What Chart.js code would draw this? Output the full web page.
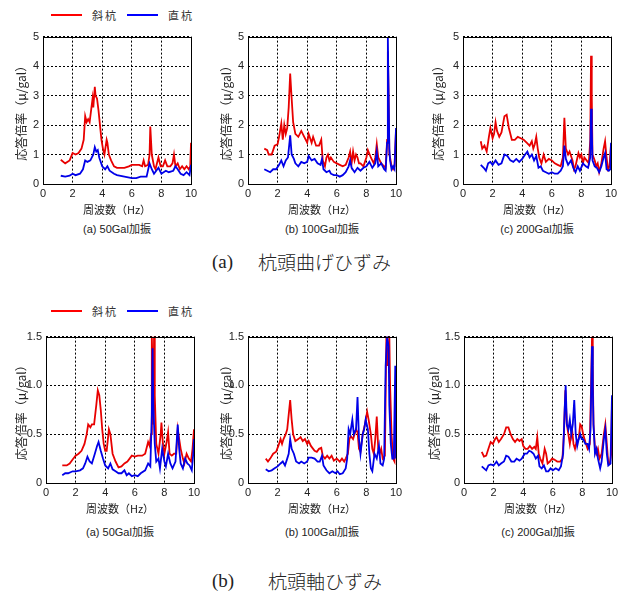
<!DOCTYPE html>
<html>
<head>
<meta charset="utf-8">
<script src="https://cdn.jsdelivr.net/npm/chart.js@4.4.0/dist/chart.umd.min.js"></script>
<style>
  body { margin: 0; background: #fff; width: 626px; height: 599px; position: relative; overflow: hidden; }
  canvas { position: absolute; }
  .lbl { position: absolute; font-family: "Liberation Sans", "Noto Sans CJK JP", sans-serif; color: #222; white-space: nowrap; }
  .cap { font-size: 11px; line-height: 14px; text-align: center; width: 148px; }
  .key { position: absolute; height: 2px; }
  .keytxt { font-family: "Noto Sans CJK JP", sans-serif; font-size: 11px; letter-spacing: 2px; color: #333; line-height: 14px; }
  .row { font-size: 19px; line-height: 22px; color: #222; }
  .serif { font-family: "Liberation Serif", serif; }
  .jp { font-family: "Noto Sans CJK JP", sans-serif; font-weight: 300; }
</style>
</head>
<body>
<script>
"use strict";

// frequency (Hz), response ratio (μ/gal)
const xTicks = [0, 2, 4, 6, 8, 10];
const bendTicks = [0, 1, 2, 3, 4, 5];
const axialTicks = [0, 0.5, 1, 1.5];
const seriesNames = ['斜杭', '直杭'];
const captions = ['(a) 50Gal加振', '(b) 100Gal加振', '(c) 200Gal加振'];

// 杭頭曲げひずみ
const bend50Inclined = [[1.2,0.82],[1.5,0.7],[1.8,0.8],[2.0,1.05],[2.2,1.0],[2.4,1.05],[2.6,1.2],[2.75,1.5],[2.85,2.3],[2.95,2.1],[3.05,2.2],[3.15,2.1],[3.3,2.7],[3.35,2.9],[3.4,2.6],[3.5,3.3],[3.55,3.0],[3.65,2.9],[3.75,2.5],[3.85,2.0],[3.95,1.5],[4.05,1.2],[4.15,1.0],[4.3,1.5],[4.35,1.4],[4.45,1.0],[4.6,0.8],[4.8,0.6],[5.0,0.55],[5.5,0.55],[5.8,0.6],[6.0,0.65],[6.5,0.65],[6.7,0.6],[6.8,0.8],[6.9,0.6],[7.1,0.65],[7.2,1.0],[7.25,1.95],[7.35,1.0],[7.5,0.6],[7.6,0.5],[7.8,0.9],[7.95,0.6],[8.1,0.6],[8.25,0.8],[8.4,0.6],[8.6,0.6],[8.75,0.7],[8.85,1.0],[8.95,0.6],[9.1,0.7],[9.25,0.5],[9.4,0.6],[9.55,0.5],[9.7,0.6],[9.85,0.5],[9.95,0.6],[10,1.4]];
const bend50Vertical = [[1.2,0.28],[1.5,0.25],[1.8,0.28],[2.0,0.35],[2.2,0.3],[2.5,0.35],[2.7,0.5],[2.85,0.8],[3.0,0.75],[3.2,0.8],[3.4,1.0],[3.5,1.25],[3.6,1.1],[3.7,1.15],[3.8,0.9],[4.0,0.6],[4.2,0.5],[4.35,0.6],[4.5,0.45],[4.8,0.35],[5.0,0.3],[5.5,0.25],[6.0,0.2],[6.3,0.2],[6.6,0.25],[7.0,0.25],[7.2,0.7],[7.35,0.5],[7.5,0.35],[7.8,0.55],[8.0,0.35],[8.3,0.45],[8.5,0.4],[8.8,0.45],[8.95,0.6],[9.1,0.5],[9.3,0.35],[9.5,0.3],[9.7,0.4],[9.9,0.3],[10,0.65]];
const bend100Inclined = [[1.1,1.2],[1.3,1.15],[1.4,1.0],[1.6,1.0],[1.8,1.3],[2.0,1.35],[2.1,1.6],[2.25,2.05],[2.35,1.5],[2.45,2.0],[2.55,1.7],[2.65,1.9],[2.75,2.6],[2.85,3.75],[2.95,2.9],[3.05,2.1],[3.2,1.7],[3.4,1.6],[3.6,1.8],[3.8,1.6],[4.0,1.4],[4.1,1.7],[4.3,1.4],[4.4,1.6],[4.6,1.3],[4.8,1.3],[4.95,1.5],[5.05,0.8],[5.2,0.6],[5.3,0.9],[5.4,1.0],[5.5,0.8],[5.6,0.9],[5.8,0.75],[6.0,0.7],[6.2,0.65],[6.4,0.6],[6.6,0.65],[6.8,0.9],[6.9,1.1],[7.0,0.7],[7.1,1.1],[7.2,0.8],[7.3,1.0],[7.4,0.9],[7.5,0.7],[7.6,0.7],[7.8,0.6],[8.0,0.9],[8.1,1.15],[8.3,0.9],[8.5,0.7],[8.6,0.9],[8.7,1.35],[8.8,0.9],[9.0,0.7],[9.2,0.6],[9.3,0.55],[9.4,1.5],[9.45,4.5],[9.5,3.0],[9.55,1.0],[9.6,0.9],[9.7,0.6],[9.8,0.5],[9.9,0.6],[10,1.8]];
const bend100Vertical = [[1.1,0.5],[1.3,0.45],[1.5,0.4],[1.7,0.5],[1.9,0.5],[2.1,0.65],[2.25,0.8],[2.4,0.6],[2.55,0.8],[2.7,0.9],[2.85,1.65],[2.95,1.0],[3.1,0.85],[3.2,0.7],[3.4,0.6],[3.6,0.75],[3.8,0.7],[4.0,0.75],[4.1,0.95],[4.3,0.8],[4.5,0.85],[4.7,0.7],[4.9,0.65],[5.0,0.85],[5.1,0.5],[5.3,0.4],[5.5,0.45],[5.6,0.35],[5.8,0.3],[6.0,0.3],[6.2,0.25],[6.4,0.3],[6.6,0.4],[6.8,0.6],[6.9,0.8],[7.0,0.55],[7.2,0.4],[7.4,0.55],[7.6,0.45],[7.8,0.55],[8.0,0.6],[8.2,0.75],[8.4,0.55],[8.6,0.7],[8.7,1.1],[8.8,0.6],[9.0,0.7],[9.2,0.5],[9.3,0.45],[9.4,1.4],[9.45,4.95],[9.5,3.0],[9.55,1.2],[9.6,0.8],[9.7,0.5],[9.8,0.6],[9.9,0.5],[10,1.9]];
const bend200Inclined = [[1.2,1.45],[1.3,1.2],[1.45,1.3],[1.6,1.1],[1.75,1.6],[1.85,1.9],[2.0,1.55],[2.1,1.7],[2.2,2.1],[2.3,1.8],[2.45,1.6],[2.6,1.75],[2.8,2.3],[2.95,2.35],[3.1,1.9],[3.3,1.5],[3.5,1.5],[3.7,1.6],[3.9,1.55],[4.1,1.5],[4.3,1.4],[4.5,1.3],[4.65,1.45],[4.75,1.2],[4.85,1.35],[4.95,1.6],[5.05,1.2],[5.15,0.9],[5.3,0.7],[5.45,1.0],[5.6,0.75],[5.8,0.85],[6.0,0.8],[6.2,0.7],[6.4,0.65],[6.6,0.6],[6.75,0.9],[6.85,2.25],[6.95,1.2],[7.1,1.0],[7.2,1.1],[7.4,0.8],[7.5,0.5],[7.6,0.6],[7.8,1.05],[7.9,0.9],[8.0,1.0],[8.1,0.7],[8.2,0.9],[8.35,0.8],[8.5,0.7],[8.6,1.5],[8.65,4.35],[8.7,3.0],[8.75,1.0],[8.9,0.8],[9.0,0.6],[9.1,0.7],[9.2,0.4],[9.35,0.7],[9.5,1.2],[9.6,1.45],[9.7,0.9],[9.8,0.5],[9.9,0.6],[10,1.35]];
const bend200Vertical = [[1.2,0.65],[1.4,0.55],[1.55,0.45],[1.7,0.7],[1.85,0.75],[2.0,0.65],[2.2,0.8],[2.4,0.65],[2.6,0.7],[2.8,1.0],[3.0,0.95],[3.2,0.8],[3.4,0.75],[3.6,0.85],[3.8,0.75],[4.0,0.85],[4.2,1.0],[4.35,1.1],[4.5,0.9],[4.65,1.0],[4.8,0.8],[4.95,0.95],[5.1,0.55],[5.25,0.6],[5.4,0.45],[5.6,0.4],[5.8,0.35],[6.0,0.4],[6.2,0.35],[6.4,0.35],[6.6,0.45],[6.75,0.6],[6.85,1.3],[6.95,0.85],[7.1,0.65],[7.3,0.8],[7.45,0.55],[7.6,0.4],[7.75,0.6],[7.9,0.45],[8.1,0.7],[8.3,0.6],[8.45,0.55],[8.6,0.9],[8.65,2.55],[8.7,1.9],[8.75,0.8],[8.9,0.6],[9.05,0.55],[9.2,0.4],[9.35,0.6],[9.5,0.9],[9.6,1.05],[9.7,0.5],[9.85,0.45],[9.95,0.5],[10,1.4]];

// 杭頭軸ひずみ
const axial50Inclined = [[1.1,0.18],[1.4,0.18],[1.6,0.2],[1.8,0.24],[2.0,0.28],[2.2,0.3],[2.4,0.33],[2.6,0.4],[2.75,0.5],[2.85,0.6],[3.0,0.57],[3.1,0.6],[3.25,0.6],[3.4,0.8],[3.5,0.95],[3.6,0.9],[3.7,0.75],[3.8,0.55],[3.9,0.4],[4.0,0.33],[4.1,0.33],[4.25,0.55],[4.35,0.5],[4.5,0.3],[4.7,0.22],[4.9,0.16],[5.1,0.17],[5.3,0.2],[5.5,0.22],[5.8,0.28],[6.0,0.27],[6.2,0.28],[6.5,0.28],[6.7,0.3],[6.9,0.42],[7.0,0.38],[7.1,0.5],[7.15,1.5],[7.2,1.2],[7.25,0.6],[7.3,1.5],[7.35,0.9],[7.45,0.4],[7.6,0.3],[7.75,0.5],[7.8,0.62],[7.9,0.4],[8.0,0.3],[8.15,0.42],[8.25,0.52],[8.35,0.3],[8.5,0.28],[8.65,0.3],[8.8,0.3],[8.9,0.55],[9.0,0.45],[9.1,0.35],[9.25,0.25],[9.35,0.2],[9.5,0.3],[9.65,0.25],[9.8,0.22],[9.9,0.35],[10,0.55]];
const axial50Vertical = [[1.1,0.08],[1.3,0.1],[1.5,0.1],[1.8,0.12],[2.0,0.12],[2.3,0.13],[2.5,0.15],[2.65,0.2],[2.8,0.27],[2.95,0.22],[3.1,0.2],[3.3,0.3],[3.45,0.38],[3.55,0.42],[3.7,0.33],[3.85,0.25],[4.0,0.18],[4.2,0.15],[4.35,0.2],[4.5,0.14],[4.7,0.12],[4.9,0.1],[5.1,0.1],[5.3,0.13],[5.45,0.08],[5.6,0.1],[5.8,0.07],[6.0,0.08],[6.2,0.07],[6.4,0.1],[6.7,0.13],[6.9,0.2],[7.05,0.17],[7.15,0.7],[7.2,1.38],[7.25,0.8],[7.35,0.4],[7.45,0.22],[7.6,0.25],[7.7,0.15],[7.85,0.35],[8.0,0.22],[8.1,0.17],[8.25,0.3],[8.4,0.2],[8.55,0.15],[8.75,0.22],[8.9,0.6],[9.0,0.35],[9.1,0.2],[9.25,0.15],[9.4,0.25],[9.55,0.2],[9.7,0.18],[9.85,0.13],[9.95,0.3],[10,0.45]];
const axial100Inclined = [[1.2,0.25],[1.35,0.22],[1.5,0.25],[1.7,0.3],[1.9,0.32],[2.05,0.38],[2.2,0.45],[2.3,0.4],[2.4,0.45],[2.55,0.5],[2.65,0.55],[2.75,0.7],[2.85,0.85],[2.95,0.65],[3.05,0.5],[3.2,0.43],[3.4,0.45],[3.55,0.47],[3.7,0.43],[3.85,0.45],[4.0,0.4],[4.1,0.43],[4.25,0.38],[4.4,0.35],[4.5,0.33],[4.65,0.32],[4.8,0.35],[4.95,0.36],[5.05,0.28],[5.2,0.25],[5.35,0.28],[5.5,0.25],[5.65,0.28],[5.8,0.23],[6.0,0.25],[6.2,0.22],[6.35,0.25],[6.5,0.22],[6.6,0.25],[6.75,0.3],[6.85,0.45],[6.95,0.48],[7.1,0.45],[7.2,0.5],[7.3,0.55],[7.4,0.52],[7.5,0.35],[7.6,0.32],[7.75,0.5],[7.9,0.6],[8.05,0.73],[8.15,0.65],[8.3,0.5],[8.4,0.35],[8.5,0.3],[8.6,0.45],[8.7,0.68],[8.8,0.35],[8.9,0.3],[9.0,0.35],[9.1,0.25],[9.25,0.28],[9.35,1.5],[9.45,1.2],[9.55,1.5],[9.6,1.0],[9.7,0.5],[9.8,0.25],[9.9,0.22],[10,0.95]];
const axial100Vertical = [[1.2,0.14],[1.4,0.12],[1.6,0.13],[1.8,0.15],[2.0,0.17],[2.2,0.2],[2.35,0.22],[2.5,0.18],[2.65,0.25],[2.75,0.3],[2.85,0.45],[2.95,0.35],[3.1,0.3],[3.25,0.22],[3.45,0.2],[3.6,0.22],[3.8,0.2],[4.0,0.22],[4.1,0.26],[4.3,0.26],[4.5,0.25],[4.7,0.22],[4.85,0.22],[5.0,0.28],[5.1,0.18],[5.3,0.13],[5.5,0.1],[5.7,0.12],[5.9,0.1],[6.05,0.12],[6.2,0.09],[6.4,0.1],[6.6,0.15],[6.7,0.25],[6.8,0.55],[6.9,0.5],[7.05,0.65],[7.15,0.5],[7.3,0.55],[7.4,0.88],[7.5,0.45],[7.6,0.3],[7.75,0.5],[7.85,0.55],[7.95,0.65],[8.1,0.55],[8.2,0.3],[8.3,0.15],[8.4,0.12],[8.55,0.3],[8.7,0.25],[8.85,0.38],[8.95,0.2],[9.1,0.18],[9.2,0.25],[9.3,1.2],[9.4,1.5],[9.5,1.4],[9.55,0.8],[9.65,0.4],[9.75,0.25],[9.85,0.25],[9.95,1.2],[10,0.25]];
const axial200Inclined = [[1.2,0.32],[1.35,0.27],[1.5,0.28],[1.65,0.35],[1.8,0.42],[1.95,0.4],[2.1,0.45],[2.2,0.47],[2.35,0.42],[2.5,0.45],[2.7,0.5],[2.85,0.57],[3.0,0.57],[3.15,0.5],[3.3,0.45],[3.45,0.42],[3.6,0.45],[3.75,0.43],[3.9,0.45],[4.0,0.38],[4.15,0.35],[4.3,0.35],[4.45,0.38],[4.6,0.35],[4.75,0.37],[4.85,0.35],[4.95,0.47],[5.05,0.3],[5.15,0.25],[5.3,0.2],[5.45,0.35],[5.55,0.3],[5.65,0.2],[5.8,0.22],[5.95,0.25],[6.1,0.24],[6.3,0.22],[6.5,0.22],[6.65,0.25],[6.75,0.5],[6.85,0.95],[6.95,0.6],[7.05,0.5],[7.15,0.4],[7.3,0.55],[7.4,0.4],[7.5,0.35],[7.6,0.42],[7.75,0.45],[7.85,0.6],[7.95,0.58],[8.05,0.5],[8.2,0.42],[8.35,0.35],[8.5,0.4],[8.6,1.1],[8.65,1.5],[8.7,1.2],[8.75,0.6],[8.85,0.35],[8.95,0.3],[9.05,0.35],[9.15,0.25],[9.3,0.3],[9.45,0.5],[9.55,0.6],[9.65,0.4],[9.75,0.2],[9.85,0.2],[9.95,0.3],[10,0.85]];
const axial200Vertical = [[1.2,0.17],[1.35,0.15],[1.5,0.13],[1.65,0.18],[1.8,0.19],[2.0,0.18],[2.2,0.22],[2.35,0.18],[2.5,0.2],[2.7,0.22],[2.85,0.28],[3.0,0.27],[3.2,0.22],[3.4,0.22],[3.55,0.25],[3.75,0.23],[3.9,0.25],[4.1,0.3],[4.25,0.3],[4.4,0.33],[4.55,0.32],[4.7,0.3],[4.85,0.25],[5.0,0.28],[5.1,0.17],[5.25,0.15],[5.4,0.18],[5.55,0.12],[5.7,0.12],[5.85,0.15],[6.0,0.13],[6.2,0.15],[6.4,0.13],[6.55,0.17],[6.7,0.3],[6.8,0.75],[6.87,1.0],[6.95,0.6],[7.05,0.55],[7.15,0.65],[7.25,0.5],[7.35,0.6],[7.45,0.85],[7.55,0.5],[7.65,0.38],[7.75,0.45],[7.85,0.5],[7.95,0.45],[8.05,0.45],[8.2,0.4],[8.35,0.4],[8.45,0.35],[8.55,0.55],[8.6,1.0],[8.65,1.4],[8.7,1.0],[8.75,0.6],[8.85,0.3],[8.95,0.35],[9.05,0.25],[9.2,0.15],[9.3,0.22],[9.45,0.45],[9.55,0.55],[9.65,0.3],[9.75,0.18],[9.9,0.2],[10,0.9]];

const RED = '#e80000';
const BLUE = '#0000e8';
const Y_W = 44, PAD = 10, X_H = 32;

// draws the closed box round the plot area
const frame = {
    id: 'frame',
    afterDatasetsDraw(chart) {
        const a = chart.chartArea, ctx = chart.ctx;
        ctx.save();
        ctx.strokeStyle = '#000';
        ctx.lineWidth = 1;
        ctx.strokeRect(Math.round(a.left) + 0.5, Math.round(a.top) + 0.5,
            Math.round(a.right - a.left), Math.round(a.bottom - a.top));
        ctx.restore();
    }
};

function addText(cls, text, left, top, extra) {
    const d = document.createElement('div');
    d.className = cls;
    d.textContent = text;
    d.style.left = left + 'px';
    d.style.top = top + 'px';
    if (extra) Object.assign(d.style, extra);
    document.body.appendChild(d);
    return d;
}

function makePlot(p) {
    const cv = document.createElement('canvas');
    const w = Y_W + p.w + PAD, h = PAD + p.h + X_H;
    cv.width = w; cv.height = h;
    cv.style.left = (p.left - Y_W) + 'px';
    cv.style.top = (p.top - PAD) + 'px';
    document.body.appendChild(cv);

    const yt = p.yTicks;
    new Chart(cv.getContext('2d'), {
        type: 'line',
        data: {
            datasets: [
                { label: seriesNames[1], data: p.vertical, borderColor: BLUE, borderWidth: 1.8, order: 0 },
                { label: seriesNames[0], data: p.inclined, borderColor: RED, borderWidth: 1.8, order: 1 }
            ]
        },
        options: {
            responsive: false,
            animation: false,
            devicePixelRatio: 1,
            layout: { padding: { top: PAD, right: PAD, left: 0, bottom: 0 } },
            elements: { point: { radius: 0 }, line: { tension: 0 } },
            plugins: { legend: { display: false }, tooltip: { enabled: false } },
            scales: {
                x: {
                    type: 'linear', min: xTicks[0], max: xTicks[xTicks.length - 1],
                    afterBuildTicks: s => { s.ticks = xTicks.map(v => ({ value: v })); },
                    afterFit: s => { s.height = X_H; },
                    grid: { color: '#000', drawTicks: false },
                    border: { display: false, dash: [2, 2] },
                    ticks: { padding: 3, color: '#222', font: { family: 'Liberation Sans', size: 11 } },
                    title: { display: true, text: '周波数（Hz）', color: '#222', padding: 0,
                        font: { family: 'Noto Sans CJK JP', size: 11 } }
                },
                y: {
                    min: yt[0], max: yt[yt.length - 1],
                    afterBuildTicks: s => { s.ticks = yt.map(v => ({ value: v })); },
                    afterFit: s => { s.width = Y_W; },
                    grid: { color: '#000', drawTicks: false },
                    border: { display: false, dash: [2, 2] },
                    ticks: { padding: 4, color: '#222', font: { family: 'Liberation Sans', size: 11 } },
                    title: { display: true, text: '応答倍率（μ/gal）', color: '#222',
                        padding: { top: 36.8 - p.titleGap, bottom: 0 },
                        font: { family: 'Noto Sans CJK JP', size: 12 } }
                }
            }
        },
        plugins: [frame]
    });

    addText('lbl cap', p.caption, p.left, p.top + p.h + p.capGap - 7);
}

function addLegend(y) {
    const k1 = addText('key', '', 51, y - 1); k1.style.width = '31px'; k1.style.background = '#ff0000';
    addText('lbl keytxt', seriesNames[0], 92, y - 7);
    const k2 = addText('key', '', 127, y - 1); k2.style.width = '31px'; k2.style.background = '#0000ff';
    addText('lbl keytxt', seriesNames[1], 168, y - 7);
}

const plots = [
    { left: 43, top: 36, w: 148, h: 148, yTicks: bendTicks, inclined: bend50Inclined, vertical: bend50Vertical, caption: captions[0], titleGap: 22, capGap: 45 },
    { left: 248, top: 36, w: 148, h: 148, yTicks: bendTicks, inclined: bend100Inclined, vertical: bend100Vertical, caption: captions[1], titleGap: 22, capGap: 45 },
    { left: 463, top: 36, w: 148, h: 148, yTicks: bendTicks, inclined: bend200Inclined, vertical: bend200Vertical, caption: captions[2], titleGap: 25, capGap: 45 },
    { left: 46, top: 336, w: 148, h: 147, yTicks: axialTicks, inclined: axial50Inclined, vertical: axial50Vertical, caption: captions[0], titleGap: 25, capGap: 49 },
    { left: 248, top: 336, w: 148, h: 147, yTicks: axialTicks, inclined: axial100Inclined, vertical: axial100Vertical, caption: captions[1], titleGap: 22, capGap: 49 },
    { left: 464, top: 336, w: 148, h: 147, yTicks: axialTicks, inclined: axial200Inclined, vertical: axial200Vertical, caption: captions[2], titleGap: 30, capGap: 49 }
];

plots.forEach(makePlot);
addLegend(15);
addLegend(311);

addText('lbl row serif', '(a)', 212, 251);
addText('lbl row jp', '杭頭曲げひずみ', 258, 251);
addText('lbl row serif', '(b)', 212, 570);
addText('lbl row jp', '杭頭軸ひずみ', 268, 570);
</script>
</body>
</html>
